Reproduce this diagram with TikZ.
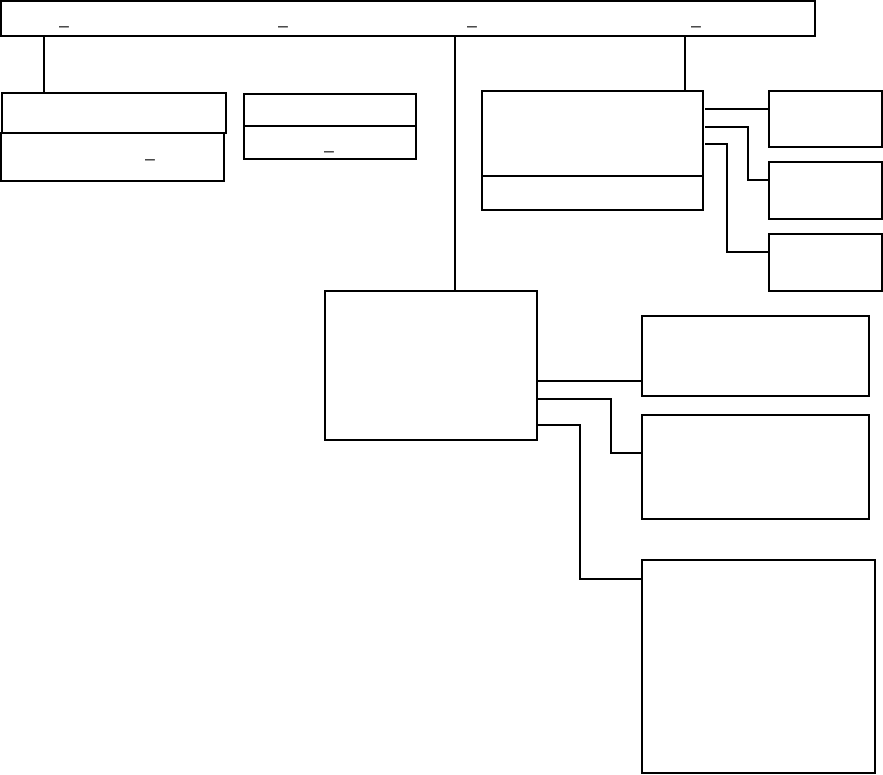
\documentclass[tikz,border=0pt]{standalone}
\usepackage{fontspec}
\setmainfont{Liberation Sans}
\usetikzlibrary{calc}
\begin{document}
\begin{tikzpicture}[x=1pt,y=-1pt,
  box/.style={draw=black, line width=1.5pt, inner sep=0pt, outer sep=0pt, anchor=north west, fill=white},
  thinlink/.style={draw=black, line width=1.1pt},
  thicklink/.style={draw=black, line width=2pt},
  uscore/.style={font=\fontsize{17}{17}\selectfont, inner sep=0pt}]
\useasboundingbox (0,0) rectangle (883,774);
% top bar
\node[box, minimum width=814pt, minimum height=35pt] (top) at (1,1) {};
\node[uscore] (u1) at (64,26) {\_};
\node[uscore] (u2) at (283,26) {\_};
\node[uscore] (u3) at (472,26) {\_};
\node[uscore] (u4) at (696,26) {\_};
% left group
\node[box, minimum width=224pt, minimum height=40pt] (A1) at (2,93) {};
\node[box, minimum width=223pt, minimum height=48pt] (A2) at (1,133) {};
\node[uscore] (u5) at (150,159) {\_};
\node[box, minimum width=172pt, minimum height=32pt] (B1) at (244,94) {};
\node[box, minimum width=172pt, minimum height=33pt] (B2) at (244,126) {};
\node[uscore] (u6) at (329,151) {\_};
% right upper group
\node[box, minimum width=221pt, minimum height=85pt] (C1) at (482,91) {};
\node[box, minimum width=221pt, minimum height=34pt] (C2) at (482,176) {};
\node[box, minimum width=113pt, minimum height=56pt] (D1) at (769,91) {};
\node[box, minimum width=113pt, minimum height=57pt] (D2) at (769,162) {};
\node[box, minimum width=113pt, minimum height=57pt] (D3) at (769,234) {};
% centre group
\node[box, minimum width=212pt, minimum height=149pt] (E) at (325,291) {};
\node[box, minimum width=227pt, minimum height=80pt] (F) at (642,316) {};
\node[box, minimum width=227pt, minimum height=104pt] (G) at (642,415) {};
\node[box, minimum width=233pt, minimum height=213pt] (H) at (642,560) {};
% connectors from top bar
\draw[thinlink] (top.south -| 44,0) -- (A1.north -| 44,0);
\draw[thicklink] (top.south -| 455,0) -- (E.north -| 455,0);
\draw[thicklink] (top.south -| 685,0) -- (C1.north -| 685,0);
% C to D
\draw[thinlink] ($(C1.east |- 0,109)+(2,0)$) -- (D1.west |- 0,109);
\draw[thinlink] ($(C1.east |- 0,127)+(2,0)$) -- (748,127) |- (D2.west |- 0,180);
\draw[thinlink] ($(C1.east |- 0,144)+(2,0)$) -- (727,144) |- (D3.west |- 0,252);
% E to F, G, H
\draw[thinlink] (E.east |- 0,381) -- (F.west |- 0,381);
\draw[thinlink] (E.east |- 0,399) -- (611,399) |- (G.west |- 0,453);
\draw[thicklink] (E.east |- 0,425) -- (580,425) |- (H.west |- 0,579);
\end{tikzpicture}
\end{document}
